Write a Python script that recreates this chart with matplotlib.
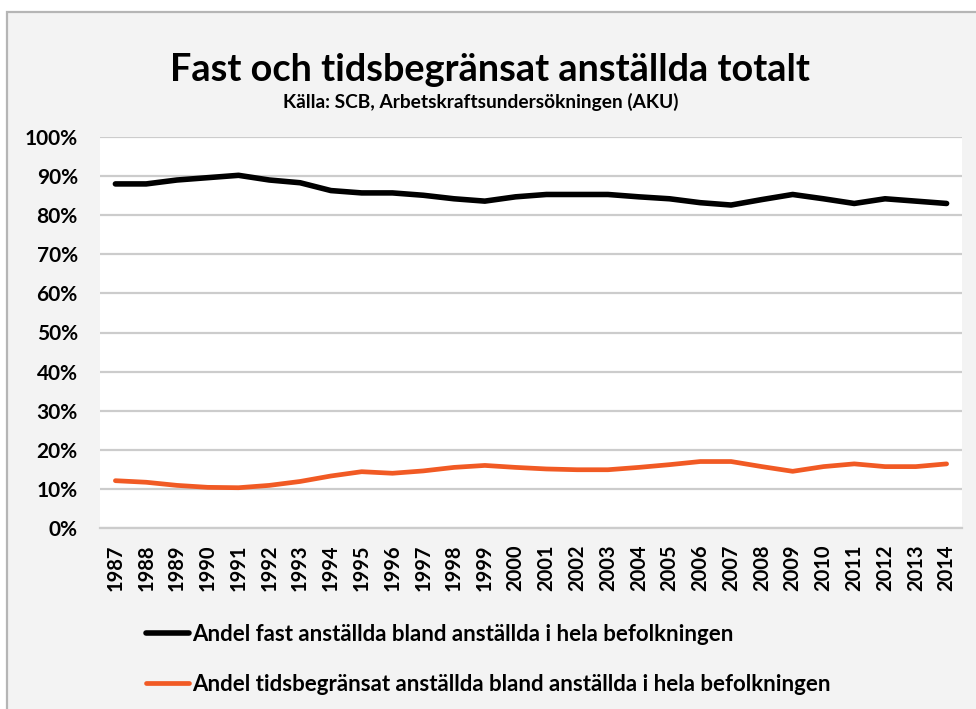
import matplotlib
matplotlib.use("Agg")
import matplotlib.pyplot as plt
from matplotlib.patches import Rectangle
from matplotlib.ticker import PercentFormatter

plt.rcParams['font.family'] = ['Lato', 'DejaVu Sans']
plt.rcParams['font.weight'] = 'bold'

# data (percent)
years = [str(y) for y in range(1987, 2015)]
fast = [88.0, 88.0, 89.0, 89.6, 90.2, 89.0, 88.3, 86.3, 85.7, 85.7,
        85.1, 84.2, 83.6, 84.7, 85.3, 85.3, 85.3, 84.7, 84.2, 83.2,
        82.6, 84.0, 85.3, 84.2, 83.0, 84.2, 83.6, 83.0]
tids = [12.1, 11.7, 10.9, 10.4, 10.3, 10.9, 11.9, 13.3, 14.4, 14.0,
        14.6, 15.5, 16.0, 15.5, 15.1, 14.9, 14.9, 15.5, 16.2, 17.0,
        17.0, 15.7, 14.5, 15.7, 16.4, 15.7, 15.7, 16.4]

title = "Fast och tidsbegränsat anställda totalt"
subtitle = "Källa: SCB, Arbetskraftsundersökningen (AKU)"
label_fast = "Andel fast anställda bland anställda i hela befolkningen"
label_tids = "Andel tidsbegränsat anställda bland anställda i hela befolkningen"

fig = plt.figure(figsize=(9.76, 7.09), dpi=100)
fig.patch.set_facecolor('white')

# grey chart frame like the spreadsheet chart area
frame = Rectangle((7 / 976, -0.05), 1.1, 1 - 12 / 709 + 0.05, transform=fig.transFigure,
                  facecolor='#f3f3f3', edgecolor='#b5b5b5', linewidth=1.6, zorder=-10)
fig.patches.append(frame)

ax = fig.add_axes([100 / 976, 1 - 528 / 709, 862 / 976, 391 / 709])
ax.set_facecolor('white')
ax.set_zorder(1)

x = list(range(len(years)))
ax.plot(x, fast, color='black', linewidth=4.0, solid_capstyle='round', label=label_fast)
ax.plot(x, tids, color='#f15a24', linewidth=3.4, solid_capstyle='round', label=label_tids)

ax.set_xlim(-0.5, len(years) - 0.5)
ax.set_ylim(0, 100)
ax.set_yticks(range(0, 101, 10))
ax.yaxis.set_major_formatter(PercentFormatter(decimals=0))
ax.set_xticks(x)
ax.set_xticklabels(years, rotation=90)
ax.grid(axis='y', color='#cccccc', linewidth=1.6)
ax.set_axisbelow(True)
for s in ['top', 'right', 'left']:
    ax.spines[s].set_visible(False)
ax.spines['bottom'].set_color('#cccccc')
ax.spines['bottom'].set_linewidth(1.6)
ax.tick_params(axis='y', length=0, labelsize=15, pad=16)
ax.tick_params(axis='x', length=0, labelsize=14.5, pad=12)
for lab in ax.get_xticklabels() + ax.get_yticklabels():
    lab.set_fontweight('bold')

fig.text(490 / 976, 1 - 70 / 709, title, ha='center', va='center', fontsize=27.3, fontweight='bold')
fig.text(481 / 976, 1 - 102 / 709, subtitle, ha='center', va='center', fontsize=13.8, fontweight='bold')

leg = fig.legend(loc='upper left', bbox_to_anchor=(146 / 976, 1 - 624 / 709), frameon=False,
                 fontsize=16, handlelength=1.95, handletextpad=0.14, labelspacing=1.3,
                 borderpad=0, borderaxespad=0)
for t in leg.get_texts():
    t.set_fontweight('bold')

fig.savefig("out.png", dpi=100)
